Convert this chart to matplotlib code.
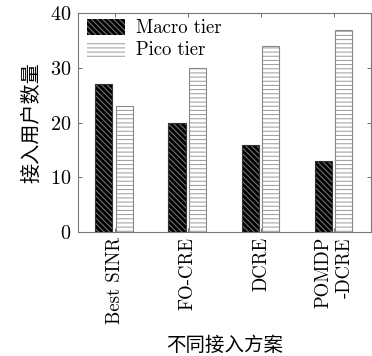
import matplotlib
matplotlib.use('Agg')
import matplotlib.pyplot as plt
import numpy as np

schemes = ['Best SINR', 'FO-CRE', 'DCRE', 'POMDP\n-DCRE']
macro = [27, 20, 16, 13]
pico = [23, 30, 34, 37]

plt.rcParams['font.family'] = ['cmr10', 'Noto Sans CJK SC']
plt.rcParams['axes.formatter.use_mathtext'] = True
plt.rcParams['hatch.linewidth'] = 0.7

fig = plt.figure(figsize=(3.72, 3.56), dpi=100)
ax = fig.add_axes([0.21, 0.348, 0.787, 0.615])

x = np.arange(len(schemes))
w = 0.235
# hatched fills
ax.bar(x - 0.15, macro, w, facecolor='black', edgecolor='#808080', hatch='\\' * 6, lw=0, label='Macro tier')
ax.bar(x + 0.13, pico, w, facecolor='white', edgecolor='#999999', hatch='----', lw=0, label='Pico tier')
# outlines
ax.bar(x - 0.15, macro, w, facecolor='none', edgecolor='#333333', lw=0.8)
ax.bar(x + 0.13, pico, w, facecolor='none', edgecolor='#888888', lw=0.8)

ax.set_xlim(-0.5, 3.5)
ax.set_ylim(0, 40)
ax.set_yticks([0, 10, 20, 30, 40])
ax.set_xticks(x)
ax.set_xticklabels(schemes, rotation=90, fontsize=13.5, ma='right')
ax.tick_params(axis='y', labelsize=14.5, pad=5)
ax.tick_params(direction='in', top=True, right=True, length=3, width=0.6, color='#555555')
for s in ax.spines.values():
    s.set_color('#777777')
    s.set_linewidth(0.8)

ax.set_ylabel('接入用户数量', fontsize=14.5, labelpad=6)
ax.set_xlabel('不同接入方案', fontsize=14, labelpad=9)

ax.legend(loc='upper left', fontsize=13.5, frameon=False, handlelength=2.0, handleheight=0.9,
          borderaxespad=0.0, borderpad=0.25, handletextpad=0.6, labelspacing=0.2,
          bbox_to_anchor=(0.015, 0.995))

fig.savefig('out.png', dpi=100)
